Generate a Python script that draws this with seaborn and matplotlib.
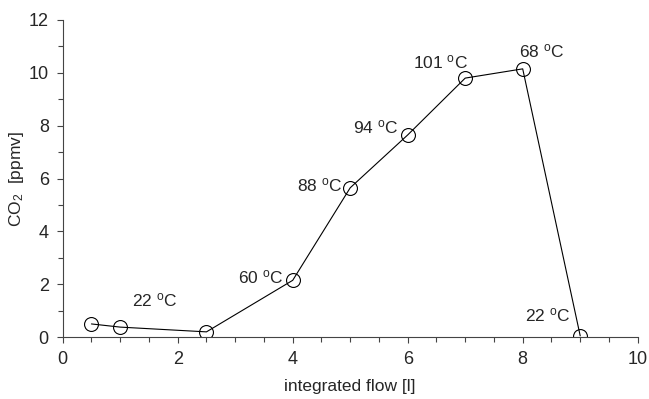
import numpy as np
import pandas as pd
import matplotlib
matplotlib.use('Agg')
import matplotlib.pyplot as plt
import seaborn as sns
from matplotlib.ticker import MultipleLocator

## 데이터
flow = [0.5, 1.0, 2.5, 4.0, 5.0, 6.0, 7.0, 8.0, 9.0]
co2 = [0.5, 0.38, 0.2, 2.15, 5.65, 7.65, 9.8, 10.15, 0.05]

temp_labels = ['22', '60', '88', '94', '101', '68', '22']
label_x = [1.6, 3.83, 4.86, 5.84, 7.05, 7.94, 8.04]
label_y = [1.4, 2.27, 5.76, 7.95, 10.4, 10.8, 0.83]
label_ha = ['center', 'right', 'right', 'right', 'right', 'left', 'left']

df = pd.DataFrame({'flow': flow, 'co2': co2})

## 스타일
sns.set_style('ticks')
plt.rcParams['font.family'] = ['Liberation Sans', 'DejaVu Sans']
plt.rcParams['mathtext.fontset'] = 'custom'
plt.rcParams['mathtext.rm'] = 'Liberation Sans'
plt.rcParams['mathtext.it'] = 'Liberation Sans'

fig = plt.figure(figsize=(6.49, 3.99), dpi=100)
ax = fig.add_axes([0.0966, 0.155, 0.886, 0.795])

sns.lineplot(data=df, x='flow', y='co2', ax=ax, color='black', lw=0.8,
             marker='o', markersize=10, markerfacecolor='none',
             markeredgecolor='black', markeredgewidth=0.8)

for t, x, y, ha in zip(temp_labels, label_x, label_y, label_ha):
    ax.text(x, y, t + r' $^{\mathrm{o}}$C', ha=ha, va='center', fontsize=12.5)

ax.set_xlim(0, 10)
ax.set_ylim(0, 12)
ax.xaxis.set_major_locator(MultipleLocator(2))
ax.xaxis.set_minor_locator(MultipleLocator(0.5))
ax.yaxis.set_major_locator(MultipleLocator(2))
ax.yaxis.set_minor_locator(MultipleLocator(1))
ax.tick_params(which='major', length=4, width=0.8, labelsize=13, color='#444444', pad=6)
ax.tick_params(which='minor', length=3.5, width=0.8, color='#444444')
for s in ['left', 'bottom']:
    ax.spines[s].set_linewidth(0.8)
    ax.spines[s].set_color('#444444')
sns.despine(ax=ax)

ax.set_xlabel('integrated flow [l]', fontsize=12.5, labelpad=8)
ax.set_ylabel(r'CO$_2$  [ppmv]', fontsize=12.5, labelpad=2)

plt.savefig('out.png', dpi=100)
